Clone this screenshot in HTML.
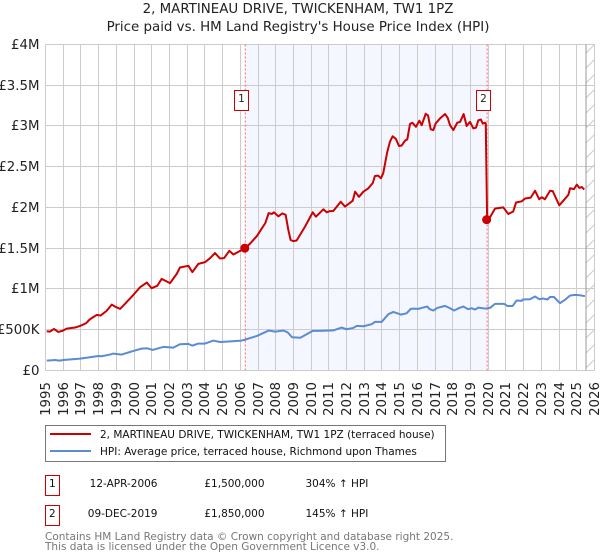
<!DOCTYPE html>
<html>
<head>
<meta charset="utf-8">
<title>2, Martineau Drive price chart</title>
<style>
html,body{margin:0;padding:0;background:#fff;width:600px;height:560px;overflow:hidden}
svg{display:block}
text{font-family:"DejaVu Sans","Liberation Sans",sans-serif}
</style>
</head>
<body>
<svg id="chart" xmlns="http://www.w3.org/2000/svg" width="600" height="560" viewBox="0 0 600 560">
  <defs>
    <pattern id="hatch" patternUnits="userSpaceOnUse" width="9" height="15">
      <path d="M-1 10 L10 -1 M-1 25 L10 14" stroke="#cccccc" stroke-width="1" fill="none"/>
    </pattern>
  </defs>
  <text x="298" y="13" text-anchor="middle" font-size="13.4" fill="#222">2, MARTINEAU DRIVE, TWICKENHAM, TW1 1PZ</text>
  <text x="298" y="31" text-anchor="middle" font-size="13.4" fill="#222">Price paid vs. HM Land Registry's House Price Index (HPI)</text>
  <g id="plot"></g>

  <g>
    <rect x="45.5" y="425.5" width="400" height="36" fill="#fff" stroke="#777" stroke-width="1"/>
    <line x1="50" x2="91" y1="434" y2="434" stroke="#cc0000" stroke-width="2"/>
    <text x="100" y="438" font-size="10.5" fill="#111">2, MARTINEAU DRIVE, TWICKENHAM, TW1 1PZ (terraced house)</text>
    <line x1="50" x2="91" y1="451" y2="451" stroke="#5b8bd3" stroke-width="2"/>
    <text x="100" y="455" font-size="10.5" fill="#111">HPI: Average price, terraced house, Richmond upon Thames</text>
  </g>

  <g>
    <rect x="45.5" y="475.5" width="14" height="20" fill="#fff" stroke="#cc0000"/>
    <text x="52.3" y="487" text-anchor="middle" font-size="10.5" fill="#111">1</text>
    <text x="157.5" y="487" text-anchor="end" font-size="10.5" fill="#111">12-APR-2006</text>
    <text x="264.5" y="487" text-anchor="end" font-size="10.5" fill="#111">£1,500,000</text>
    <text x="305.5" y="487" font-size="10.5" fill="#111">304% ↑ HPI</text>

    <rect x="45.5" y="505.5" width="14" height="20" fill="#fff" stroke="#cc0000"/>
    <text x="52.3" y="517" text-anchor="middle" font-size="10.5" fill="#111">2</text>
    <text x="157.5" y="517" text-anchor="end" font-size="10.5" fill="#111">09-DEC-2019</text>
    <text x="264.5" y="517" text-anchor="end" font-size="10.5" fill="#111">£1,850,000</text>
    <text x="305.5" y="517" font-size="10.5" fill="#111">145% ↑ HPI</text>
  </g>

  <text x="45" y="540" font-size="10.5" fill="#777">Contains HM Land Registry data © Crown copyright and database right 2025.</text>
  <text x="45" y="550" font-size="10.5" fill="#777">This data is licensed under the Open Government Licence v3.0.</text>
</svg>
<script>
var xTickYears = [1995,1996,1997,1998,1999,2000,2001,2002,2003,2004,2005,2006,2007,2008,2009,2010,2011,2012,2013,2014,2015,2016,2017,2018,2019,2020,2021,2022,2023,2024,2025,2026];
var yTickValues = [0,0.5,1,1.5,2,2.5,3,3.5,4];
var yTickLabels = ["£0","£500K","£1M","£1.5M","£2M","£2.5M","£3M","£3.5M","£4M"];
var saleYears = [2006.28,2019.937];
var saleValues = [1.5,1.85];
var saleLabels = ["1","2"];
var forecastStartYear = 2025.52;
var priceYears = [1995.07,1995.25,1995.48,1995.72,1995.95,1996.2,1996.67,1996.95,1997.29,1997.51,1997.89,1998.11,1998.45,1998.74,1998.92,1999.21,1999.49,1999.96,2000.34,2000.72,2000.99,2001.31,2001.56,2002.03,2002.41,2002.59,2003.07,2003.29,2003.63,2004.01,2004.29,2004.57,2004.85,2005.08,2005.38,2005.61,2006.28,2006.57,2006.94,2007.41,2007.6,2007.78,2007.9,2008.15,2008.37,2008.56,2008.71,2008.84,2008.99,2009.18,2009.65,2010.09,2010.27,2010.69,2010.88,2011.06,2011.25,2011.67,2011.91,2012.35,2012.48,2012.7,2012.95,2013.23,2013.48,2013.6,2013.79,2013.94,2014.07,2014.3,2014.45,2014.6,2014.79,2014.96,2015.11,2015.3,2015.43,2015.58,2015.71,2015.92,2016.11,2016.24,2016.47,2016.6,2016.75,2016.9,2017.03,2017.28,2017.56,2017.71,2017.84,2018.03,2018.25,2018.41,2018.61,2018.78,2018.97,2019.16,2019.31,2019.44,2019.58,2019.69,2019.82,2019.86,2019.937,2020.1,2020.38,2020.85,2021.13,2021.41,2021.57,2021.89,2022.08,2022.4,2022.64,2022.88,2023.02,2023.2,2023.49,2023.64,2024.01,2024.24,2024.52,2024.62,2024.84,2025.0,2025.14,2025.28,2025.42];
var priceValues = [0.48,0.475,0.508,0.471,0.484,0.512,0.525,0.545,0.578,0.627,0.68,0.672,0.73,0.807,0.783,0.754,0.816,0.926,1.02,1.078,1.008,1.037,1.123,1.07,1.184,1.262,1.283,1.205,1.307,1.328,1.377,1.439,1.373,1.377,1.467,1.422,1.5,1.56,1.65,1.807,1.93,1.92,1.94,1.89,1.926,1.91,1.725,1.6,1.586,1.594,1.763,1.94,1.886,1.977,1.94,1.955,1.956,2.07,2.01,2.083,2.193,2.13,2.193,2.235,2.3,2.386,2.39,2.357,2.42,2.684,2.807,2.873,2.84,2.754,2.76,2.82,2.836,3.024,3.04,2.99,3.065,3.01,3.15,3.13,2.96,2.95,3.03,3.094,3.147,3.1,3.01,2.95,3.04,3.05,3.147,3.0,3.05,2.97,2.98,3.07,3.08,3.03,3.04,3.03,1.85,1.879,1.985,2.0,1.92,1.95,2.06,2.075,2.11,2.12,2.205,2.1,2.125,2.1,2.205,2.2,2.026,2.083,2.153,2.235,2.225,2.28,2.24,2.25,2.22];
var hpiYears = [1995.07,1995.54,1995.78,1996.01,1996.95,1997.36,1997.98,1998.17,1998.64,1998.83,1999.3,1999.96,2000.43,2000.75,2001.05,2001.65,2002.22,2002.59,2003.07,2003.29,2003.63,2004.01,2004.48,2004.85,2005.23,2006.07,2006.28,2006.94,2007.6,2007.97,2008.44,2008.67,2008.92,2009.39,2010.09,2010.5,2011.25,2011.72,2012.0,2012.38,2012.57,2012.95,2013.42,2013.6,2013.98,2014.36,2014.64,2015.07,2015.39,2015.62,2015.77,2016.05,2016.24,2016.56,2016.67,2016.9,2017.12,2017.56,2017.84,2018.07,2018.37,2018.59,2018.87,2019.06,2019.25,2019.44,2019.82,2020.1,2020.38,2020.89,2021.08,2021.38,2021.6,2021.89,2021.94,2022.36,2022.64,2022.88,2023.11,2023.34,2023.49,2023.71,2024.05,2024.33,2024.62,2024.9,2025.18,2025.46];
var hpiValues = [0.119,0.127,0.119,0.127,0.143,0.156,0.176,0.172,0.193,0.205,0.193,0.238,0.266,0.27,0.25,0.287,0.279,0.32,0.324,0.303,0.328,0.328,0.365,0.348,0.352,0.365,0.377,0.422,0.488,0.475,0.488,0.467,0.406,0.4,0.484,0.484,0.49,0.525,0.504,0.52,0.545,0.541,0.566,0.594,0.594,0.689,0.717,0.684,0.7,0.754,0.758,0.754,0.766,0.783,0.754,0.734,0.766,0.791,0.762,0.734,0.766,0.783,0.75,0.762,0.746,0.77,0.758,0.766,0.816,0.816,0.79,0.79,0.857,0.853,0.869,0.873,0.906,0.873,0.881,0.869,0.9,0.9,0.824,0.865,0.918,0.926,0.922,0.91];

var NS = "http://www.w3.org/2000/svg";
var plot = document.getElementById("plot");
function xScale(year){ return 45.5 + (year - 1995) * 17.71; }
function yScale(value){ return 370.3 - value * 81.44; }
function snap(p){ return Math.floor(p) + 0.5; }
function make(tag, attrs, parent){
  var el = document.createElementNS(NS, tag);
  for (var k in attrs) { el.setAttribute(k, attrs[k]); }
  (parent || plot).appendChild(el);
  return el;
}
function pathFrom(xs, ys){
  var d = "";
  for (var i = 0; i < xs.length; i++) {
    d += (i ? "L" : "M") + xScale(xs[i]).toFixed(2) + " " + yScale(ys[i]).toFixed(2);
  }
  return d;
}

var top_ = yScale(4), bottom_ = yScale(0), left_ = xScale(1995), right_ = xScale(2026);

var band = make("rect", {x: xScale(saleYears[0]), y: top_, width: xScale(saleYears[1]) - xScale(saleYears[0]), height: bottom_ - top_, fill: "#f4f7ff"});



var hatch = make("rect", {x: xScale(forecastStartYear), y: top_, width: right_ - xScale(forecastStartYear), height: bottom_ - top_, fill: "url(#hatch)"});



xTickYears.forEach(function(yr){
  var px = snap(xScale(yr));
  var g = make("line", {x1: px, x2: px, y1: snap(top_), y2: snap(bottom_), stroke: "#cccccc", "stroke-width": 1});
  
  
  var t = make("text", {transform: "translate(" + (px + 4.5) + ",382) rotate(-90)", "text-anchor": "end", "font-size": 13.33, fill: "#222"});
  t.textContent = String(yr);
  
  
});

yTickValues.forEach(function(v, i){
  var py = snap(yScale(v));
  var g = make("line", {x1: snap(left_), x2: snap(right_), y1: py, y2: py, stroke: "#cccccc", "stroke-width": 1});
  
  
  var t = make("text", {x: 39.5, y: py + 4.5, "text-anchor": "end", "font-size": 13.33, fill: "#222"});
  t.textContent = yTickLabels[i];
  
  
});

var edge = make("line", {x1: xScale(forecastStartYear), x2: xScale(forecastStartYear), y1: top_, y2: bottom_, stroke: "#999999", "stroke-width": 1});



saleYears.forEach(function(yr){
  var sl = make("line", {x1: xScale(yr), x2: xScale(yr), y1: top_, y2: bottom_, stroke: "#ff6666", "stroke-width": 1, "stroke-dasharray": "2 2"});
  
  
});

var hpiLine = make("path", {d: pathFrom(hpiYears, hpiValues), fill: "none", stroke: "#5b8bd3", "stroke-width": 2, "stroke-linejoin": "round"});



var priceLine = make("path", {d: pathFrom(priceYears, priceValues), fill: "none", stroke: "#cc0000", "stroke-width": 2, "stroke-linejoin": "round"});



saleYears.forEach(function(yr, i){
  var dot = make("circle", {cx: xScale(yr) - 0.5, cy: yScale(saleValues[i]), r: 4.5, fill: "#cc0000"});
  
  
  var bx = snap(xScale(yr)) - 11;
  var box = make("rect", {x: bx, y: 90.5, width: 14, height: 20, fill: "#fff", stroke: "#cc0000", "stroke-width": 1});
  
  
  var lbl = make("text", {x: bx + 7, y: 102, "text-anchor": "middle", "font-size": 10.5, fill: "#222"});
  lbl.textContent = saleLabels[i];
  
  
});
</script>
</body>
</html>
